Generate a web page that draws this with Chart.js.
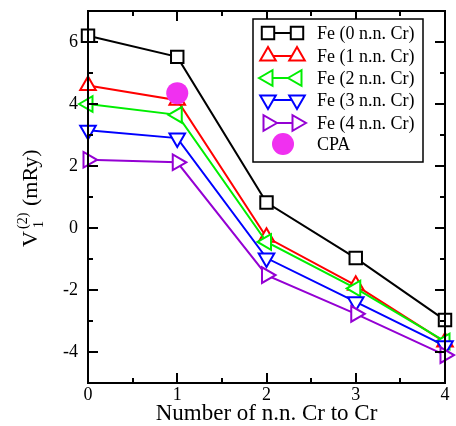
<!DOCTYPE html>
<html>
<head>
<meta charset="utf-8">
<script src="https://cdn.jsdelivr.net/npm/chart.js@4.4.1/dist/chart.umd.min.js"></script>
<style>
  html, body { margin: 0; padding: 0; background: #fff; }
  #wrap { width: 456px; height: 426px; }
</style>
</head>
<body>
<div id="wrap"><canvas id="plot" width="456" height="426"></canvas></div>
<script>
// values
const nnCr = [0, 1, 2, 3, 4];
const fe0 = [6.2, 5.52, 0.82, -0.97, -2.97];
const fe1 = [4.6, 4.12, -0.3, -1.85, -3.68];
const fe2 = [4.0, 3.65, -0.45, -1.95, -3.66];
const fe3 = [3.15, 2.9, -0.97, -2.38, -3.8];
const fe4 = [2.2, 2.12, -1.52, -2.77, -4.1];
const cpaX = [1];
const cpaY = [4.35];
const seriesNames = ['Fe (0 n.n. Cr)', 'Fe (1 n.n. Cr)', 'Fe (2 n.n. Cr)', 'Fe (3 n.n. Cr)', 'Fe (4 n.n. Cr)', 'CPA'];
const xTitle = 'Number of n.n. Cr to Cr';

const serif = 'Liberation Serif';

function pts(xs, ys) {
    return xs.map((x, i) => ({ x: x, y: ys[i] }));
}

function feSet(label, ys, color, style, rot, order) {
    return {
        label: label,
        data: pts(nnCr, ys),
        borderColor: color,
        borderWidth: 2,
        backgroundColor: '#fff',
        pointStyle: style,
        pointRotation: rot,
        pointRadius: style === 'rect' ? 8.8 : 9,
        pointBorderWidth: 2,
        pointBorderColor: color,
        pointBackgroundColor: '#fff',
        tension: 0,
        clip: false,
        order: order
    };
}

const datasets = [
    feSet(seriesNames[0], fe0, '#000000', 'rect', 0, 5),
    feSet(seriesNames[1], fe1, '#ff0000', 'triangle', 0, 4),
    feSet(seriesNames[2], fe2, '#00ee00', 'triangle', -90, 3),
    feSet(seriesNames[3], fe3, '#0000ff', 'triangle', 180, 2),
    feSet(seriesNames[4], fe4, '#9400d3', 'triangle', 90, 1),
    {
        label: seriesNames[5],
        data: pts(cpaX, cpaY),
        showLine: false,
        pointStyle: 'circle',
        pointRadius: 11,
        pointBorderWidth: 0,
        pointBackgroundColor: '#f030f0',
        pointBorderColor: '#f030f0',
        clip: false,
        order: 0
    }
];

// inward ticks on all four sides plus the frame
const frameTicks = {
    id: 'frameTicks',
    afterDatasetsDraw(chart) {
        const ctx = chart.ctx;
        const a = chart.chartArea;
        const xs = chart.scales.x;
        const ys = chart.scales.y;
        ctx.save();
        ctx.strokeStyle = '#000';
        ctx.lineWidth = 2;
        ctx.beginPath();
        for (let v = 0; v <= 4.001; v += 0.5) {
            const px = Math.round(xs.getPixelForValue(v));
            const len = Number.isInteger(v) ? 10 : 5;
            ctx.moveTo(px, a.bottom);
            ctx.lineTo(px, a.bottom - len);
            ctx.moveTo(px, a.top);
            ctx.lineTo(px, a.top + len);
        }
        for (let v = -5; v <= 7; v++) {
            const py = Math.round(ys.getPixelForValue(v));
            const len = v % 2 === 0 ? 10 : 5;
            ctx.moveTo(a.left, py);
            ctx.lineTo(a.left + len, py);
            ctx.moveTo(a.right, py);
            ctx.lineTo(a.right - len, py);
        }
        ctx.stroke();
        ctx.strokeRect(a.left, a.top, a.right - a.left, a.bottom - a.top);
        ctx.restore();
    }
};

// legend box inside the plot, line with two markers like the original
const boxLegend = {
    id: 'boxLegend',
    afterDraw(chart) {
        const ctx = chart.ctx;
        ctx.save();
        ctx.fillStyle = '#fff';
        ctx.fillRect(253, 19, 170, 143);
        ctx.strokeStyle = '#000';
        ctx.lineWidth = 1.5;
        ctx.strokeRect(253, 19, 170, 143);
        const rowY = [33, 56, 78, 100, 123, 144];
        chart.data.datasets.forEach((ds, i) => {
            const y = rowY[i];
            if (ds.showLine !== false) {
                ctx.strokeStyle = ds.borderColor;
                ctx.lineWidth = 2;
                ctx.beginPath();
                ctx.moveTo(268, y);
                ctx.lineTo(297, y);
                ctx.stroke();
                ctx.fillStyle = '#fff';
                const opt = { pointStyle: ds.pointStyle, rotation: ds.pointRotation, radius: ds.pointRadius, borderWidth: 2 };
                Chart.helpers.drawPoint(ctx, opt, 268, y);
                Chart.helpers.drawPoint(ctx, opt, 297, y);
            } else {
                ctx.fillStyle = ds.pointBackgroundColor;
                ctx.beginPath();
                ctx.arc(283, y, 11, 0, Math.PI * 2);
                ctx.fill();
            }
            ctx.fillStyle = '#000';
            ctx.font = '18px "' + serif + '"';
            ctx.textAlign = 'left';
            ctx.textBaseline = 'middle';
            ctx.fillText(ds.label, 317, y + 1);
        });
        ctx.restore();
    }
};

// y title: V with subscript 1 and superscript (2)
const yTitle = {
    id: 'yTitle',
    afterDraw(chart) {
        const ctx = chart.ctx;
        ctx.save();
        ctx.translate(37, 247);
        ctx.rotate(-Math.PI / 2);
        ctx.fillStyle = '#000';
        ctx.textAlign = 'left';
        ctx.textBaseline = 'alphabetic';
        ctx.font = '22px "' + serif + '"';
        ctx.fillText('V', 0, 0);
        ctx.font = '14px "' + serif + '"';
        ctx.fillText('1', 19, 6);
        ctx.fillText('(2)', 18, -10);
        ctx.font = '22px "' + serif + '"';
        ctx.fillText('(mRy)', 41, 0);
        ctx.restore();
    }
};

new Chart(document.getElementById('plot'), {
    type: 'line',
    data: { datasets: datasets },
    options: {
        responsive: false,
        animation: false,
        layout: { padding: { top: 11, right: 4, left: 0, bottom: 0 } },
        plugins: {
            legend: { display: false },
            tooltip: { enabled: false }
        },
        scales: {
            x: {
                type: 'linear',
                min: 0,
                max: 4,
                grid: { display: false, drawTicks: false },
                border: { display: false },
                ticks: {
                    stepSize: 0.5,
                    autoSkip: false,
                    maxRotation: 0,
                    padding: 1,
                    color: '#000',
                    font: { family: serif, size: 18 },
                    callback: v => Number.isInteger(v) ? String(v) : ''
                },
                title: {
                    display: true,
                    text: xTitle,
                    color: '#000',
                    padding: { top: 0, bottom: -2 },
                    font: { family: serif, size: 23 }
                },
                afterFit(scale) {
                    scale.height = 43;
                    scale.paddingLeft = 0;
                    scale.paddingRight = 0;
                }
            },
            y: {
                type: 'linear',
                min: -5,
                max: 7,
                grid: { display: false, drawTicks: false },
                border: { display: false },
                ticks: {
                    stepSize: 1,
                    autoSkip: false,
                    padding: 10,
                    color: '#000',
                    font: { family: serif, size: 18 },
                    callback: v => v % 2 === 0 ? String(v) : ''
                },
                afterFit(scale) {
                    scale.width = 88;
                    scale.paddingTop = 0;
                    scale.paddingBottom = 0;
                }
            }
        }
    },
    plugins: [frameTicks, boxLegend, yTitle]
});
</script>
</body>
</html>
